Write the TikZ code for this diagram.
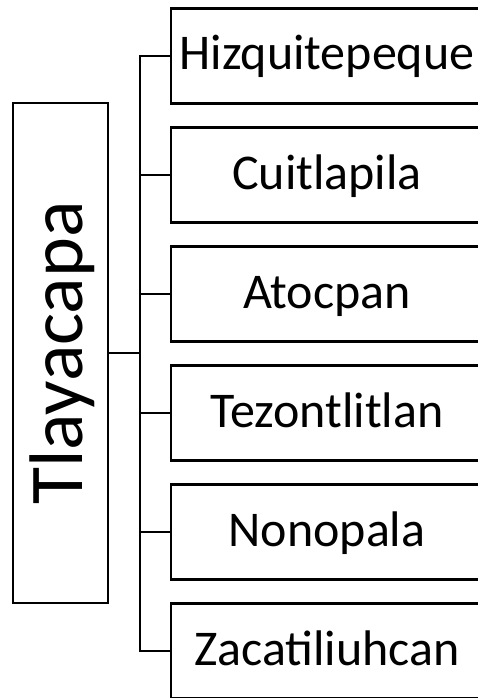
\documentclass[tikz,border=0pt]{standalone}
\usepackage{fontspec}
\setmainfont{Carlito}[Ligatures=ResetAll]
\begin{document}
\begin{tikzpicture}[x=1pt, y=-1pt,
        pueblo/.style={outer sep=0pt, minimum width=312pt, minimum height=95pt,
            text height=36pt, text depth=8pt, font=\fontsize{50}{60}\selectfont},
        caja/.style={line width=2.7pt},
        cabecera/.style={draw, line width=2.7pt, rotate=90, minimum width=500pt, minimum height=95pt,
            text height=55pt, text depth=12pt, font=\fontsize{76}{90}\selectfont},
        rama/.style={line width=2.7pt}]
        \useasboundingbox (0, 0) rectangle (478, 698);
        \clip (0, 0) rectangle (478, 698);

        % Cabecera (izquierda)
        \node [cabecera] (tlayacapa) at (60.5, 353) {Tlayacapa};

        % Pueblos (derecha, cajas abiertas al borde)
        \node [pueblo] (hizqui) at (327, 56) {Hizquitepeque};
        \node [pueblo] (cuitla) at (327, 175) {Cuitlapila};
        \node [pueblo] (atocpan) at (327, 294) {Atocpan};
        \node [pueblo] (tezont) at (327, 413) {Tezontlitlan};
        \node [pueblo] (nonopala) at (327, 532) {Nonopala};
        \node [pueblo] (zacati) at (327, 651) {Zacatiliuhcan};
        \foreach \n in {hizqui, cuitla, atocpan, tezont, nonopala, zacati}
            \draw [caja] (\n.north east) -- (\n.north west) -- (\n.south west) -- (\n.south east);

        % Ramas
        \coordinate (bus) at (140, 353);
        \draw [rama] (tlayacapa.south) -- (bus);
        \draw [rama] (hizqui.west) -| (bus) |- (zacati.west);
        \draw [rama] (cuitla.west) -- (cuitla.west -| bus);
        \draw [rama] (atocpan.west) -- (atocpan.west -| bus);
        \draw [rama] (tezont.west) -- (tezont.west -| bus);
        \draw [rama] (nonopala.west) -- (nonopala.west -| bus);
    \end{tikzpicture}
\end{document}
